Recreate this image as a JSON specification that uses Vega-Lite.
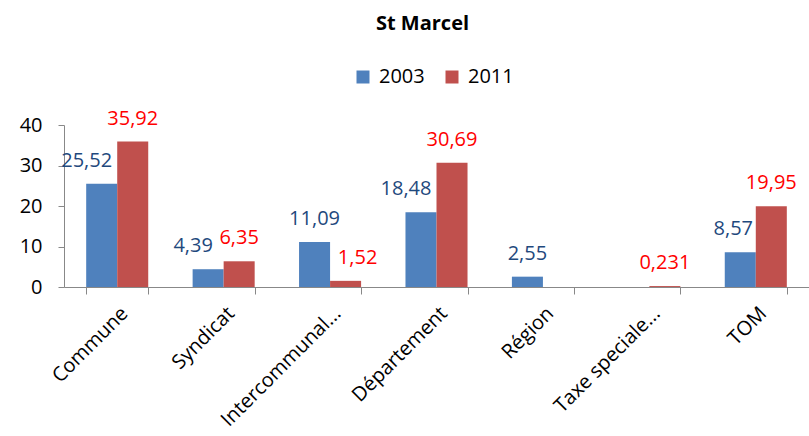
{
  "$schema": "https://vega.github.io/schema/vega-lite/v6.json",
  "width": 745,
  "height": 162,
  "autosize": {"type": "none"},
  "padding": {"left": 64, "top": 125, "right": 0, "bottom": 149},
  "background": "white",
  "title": {
    "text": "St Marcel",
    "font": "Open Sans",
    "fontSize": 20,
    "fontWeight": "bold",
    "color": "black",
    "anchor": "middle",
    "dx": -14,
    "offset": 33
  },
  "config": {
    "view": {"stroke": null},
    "locale": {"number": {"decimal": ",", "thousands": " ", "grouping": [3], "currency": ["", " €"]}},
    "font": "Open Sans"
  },
  "data": {
    "values": [
      {"cat": "Commune", "year": "2003", "value": 25.52},
      {"cat": "Commune", "year": "2011", "value": 35.92},
      {"cat": "Syndicat", "year": "2003", "value": 4.39},
      {"cat": "Syndicat", "year": "2011", "value": 6.35},
      {"cat": "Intercommunal...", "year": "2003", "value": 11.09},
      {"cat": "Intercommunal...", "year": "2011", "value": 1.52},
      {"cat": "Département", "year": "2003", "value": 18.48},
      {"cat": "Département", "year": "2011", "value": 30.69},
      {"cat": "Région", "year": "2003", "value": 2.55},
      {"cat": "Taxe speciale...", "year": "2011", "value": 0.231},
      {"cat": "TOM", "year": "2003", "value": 8.57},
      {"cat": "TOM", "year": "2011", "value": 19.95}
    ]
  },
  "encoding": {
    "x": {
      "field": "cat",
      "type": "nominal",
      "sort": ["Commune", "Syndicat", "Intercommunal...", "Département", "Région", "Taxe speciale...", "TOM"],
      "scale": {"paddingInner": 0.417, "paddingOuter": 0.2085},
      "axis": {
        "title": null,
        "labelAngle": -45,
        "labelFontSize": 20,
        "labelColor": "black",
        "labelFont": "Open Sans",
        "labelPadding": 9,
        "tickBand": "extent",
        "tickSize": 7,
        "tickColor": "#888888",
        "domainColor": "#888888",
        "grid": false
      }
    },
    "xOffset": {"field": "year", "type": "nominal", "scale": {"domain": ["2003", "2011"]}},
    "y": {
      "field": "value",
      "type": "quantitative",
      "scale": {"domain": [0, 40]},
      "axis": {
        "title": null,
        "values": [0, 10, 20, 30, 40],
        "labelFontSize": 20,
        "labelColor": "black",
        "labelFont": "Open Sans",
        "labelPadding": 16,
        "tickSize": 6,
        "tickColor": "#888888",
        "domainColor": "#888888",
        "grid": false
      }
    }
  },
  "layer": [
    {
      "mark": {"type": "bar"},
      "encoding": {
        "color": {
          "field": "year",
          "type": "nominal",
          "scale": {"domain": ["2003", "2011"], "range": ["#4F81BD", "#C0504D"]},
          "legend": {
            "title": null,
            "orient": "none",
            "direction": "horizontal",
            "legendX": 289,
            "legendY": -58,
            "symbolType": "square",
            "symbolSize": 169,
            "symbolStrokeWidth": 0,
            "labelFontSize": 20,
            "labelFont": "Open Sans",
            "labelColor": "black",
            "labelOffset": 6,
            "columnPadding": 17
          }
        }
      }
    },
    {
      "transform": [
        {"filter": {"field": "year", "equal": "2003"}},
        {"filter": {"field": "cat", "oneOf": ["Commune", "Syndicat", "Département"]}}
      ],
      "mark": {"type": "text", "fontSize": 20, "font": "Open Sans", "color": "#1F497D", "baseline": "alphabetic", "dy": -17, "dx": -15},
      "encoding": {"text": {"field": "value", "type": "quantitative", "format": "~g"}}
    },
    {
      "transform": [
        {"filter": {"field": "year", "equal": "2003"}},
        {"filter": {"field": "cat", "equal": "TOM"}}
      ],
      "mark": {"type": "text", "fontSize": 20, "font": "Open Sans", "color": "#1F497D", "baseline": "alphabetic", "dy": -17, "dx": -7},
      "encoding": {"text": {"field": "value", "type": "quantitative", "format": "~g"}}
    },
    {
      "transform": [
        {"filter": {"field": "year", "equal": "2003"}},
        {"filter": {"field": "cat", "oneOf": ["Intercommunal...", "Région"]}}
      ],
      "mark": {"type": "text", "fontSize": 20, "font": "Open Sans", "color": "#1F497D", "baseline": "alphabetic", "dy": -17},
      "encoding": {"text": {"field": "value", "type": "quantitative", "format": "~g"}}
    },
    {
      "transform": [
        {"filter": {"field": "year", "equal": "2011"}},
        {"filter": {"field": "cat", "equal": "Intercommunal..."}}
      ],
      "mark": {"type": "text", "fontSize": 20, "font": "Open Sans", "color": "#FF0000", "baseline": "alphabetic", "dy": -17, "dx": 12},
      "encoding": {"text": {"field": "value", "type": "quantitative", "format": "~g"}}
    },
    {
      "transform": [
        {"filter": {"field": "year", "equal": "2011"}},
        {"filter": {"field": "cat", "oneOf": ["Commune", "Syndicat", "Département", "Taxe speciale...", "TOM"]}}
      ],
      "mark": {"type": "text", "fontSize": 20, "font": "Open Sans", "color": "#FF0000", "baseline": "alphabetic", "dy": -17},
      "encoding": {"text": {"field": "value", "type": "quantitative", "format": "~g"}}
    }
  ]
}
